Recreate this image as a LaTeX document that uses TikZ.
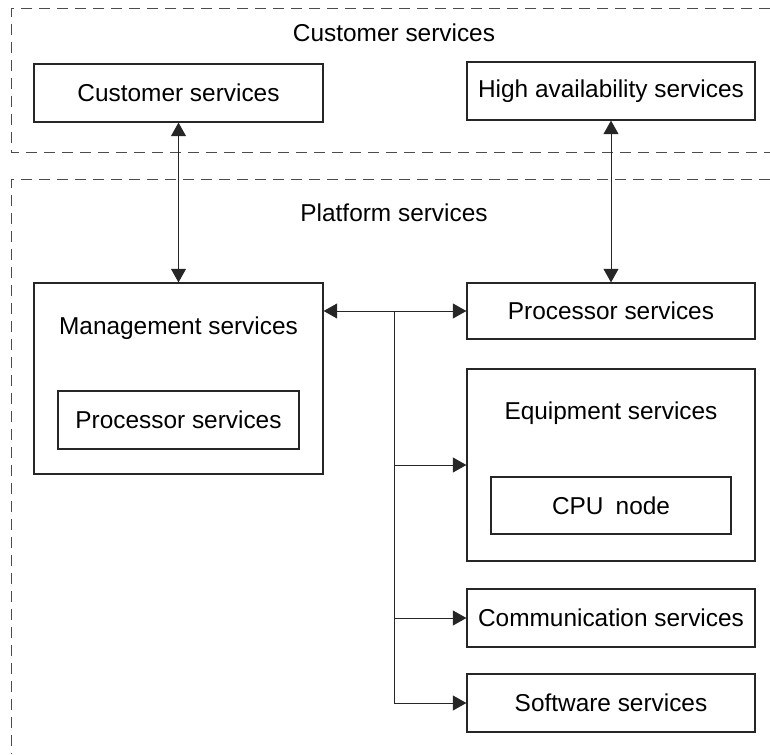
\documentclass[tikz,border=0pt]{standalone}
\usepackage{fontspec}
\setmainfont{Liberation Sans}
\usetikzlibrary{arrows.meta,positioning}

\begin{document}
\begin{tikzpicture}[
    x=0.5pt, y=-0.5pt,
    svc/.style={draw=black!85, line width=0.6pt, minimum width=288*0.5pt, minimum height=58*0.5pt, inner sep=0pt, font=\fontsize{12.2}{14}\selectfont},
    group/.style={draw=black!85, line width=0.6pt, inner sep=0pt},
    lbl/.style={font=\fontsize{12.2}{14}\selectfont, inner sep=0pt},
    region/.style={dashed, dash pattern=on 5.5pt off 3.5pt, draw=black!70, line width=0.5pt},
    arr/.style={-{Triangle[length=6.8pt,width=7.5pt]}, line width=0.5pt, black!85},
    both/.style={{Triangle[length=6.8pt,width=7.5pt]}-{Triangle[length=6.8pt,width=7.5pt]}, line width=0.5pt, black!85},
]
\useasboundingbox (0,0) rectangle (770,754);

% Dashed regions
\draw[region] (770,9) -- (11,9) -- (11,153) -- (770,153);
\draw[region] (770,180) -- (11,180) -- (11,754);

% Region titles
\node[lbl] (custtitle) at (394,33) {Customer services};
\node[lbl] (plattitle) at (394,213) {Platform services};

% Customer level
\node[svc, minimum width=289*0.5pt] (cust) at (178.5,93) {Customer services};
\node[svc] (ha) at (611,91) {High availability services};

% Management services with its processor services
\node[group, minimum width=289*0.5pt, minimum height=191*0.5pt] (mgmt) at (178.5,378.5) {};
\node[lbl] (mgmtlbl) at (178.5,328) {Management services};
\node[svc, minimum width=241*0.5pt] (mproc) at (178.5,420) {Processor services};

% Platform services on the right
\node[svc, minimum height=56*0.5pt] (proc) at (611,311) {Processor services};
\node[group, minimum width=288*0.5pt, minimum height=192*0.5pt] (equip) at (611,465) {};
\node[lbl] (equiplbl) at (611,413) {Equipment services};
\node[svc, minimum width=240*0.5pt, minimum height=57*0.5pt] (cpu) at (611,505.5) {CPU\enspace node};
\node[svc] (comm) at (611,618) {Communication services};
\node[svc] (soft) at (611,703) {Software services};

% Vertical links
\draw[both] (cust.south) -- (mgmt.north);
\draw[both] (ha.south) -- (proc.north);

% Bus from management services
\coordinate (hub) at (394,311);
\draw[both] (mgmt.east |- proc.west) -- (proc.west);
\draw[line width=0.5pt, black!85] (hub) -- (hub |- soft.west);
\draw[arr] (hub |- equip.west) -- (equip.west);
\draw[arr] (hub |- comm.west) -- (comm.west);
\draw[arr] (hub |- soft.west) -- (soft.west);

\end{tikzpicture}
\end{document}
